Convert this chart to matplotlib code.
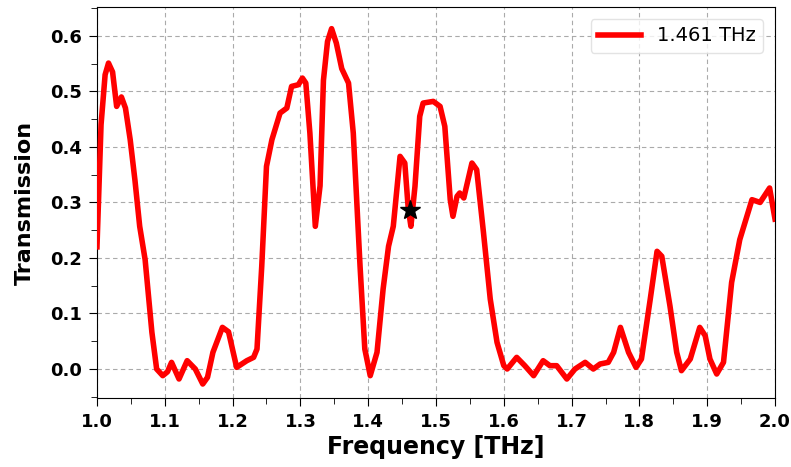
import matplotlib
matplotlib.use("Agg")
import matplotlib.pyplot as plt
from matplotlib.ticker import MultipleLocator, FormatStrFormatter

# Transmission spectrum (frequency in THz)
freq = [1.000, 1.006, 1.012, 1.017, 1.023, 1.029, 1.036, 1.042, 1.049, 1.056, 1.063,
        1.071, 1.081, 1.088, 1.097, 1.104, 1.110, 1.121, 1.133, 1.145, 1.156, 1.163,
        1.171, 1.185, 1.194, 1.206, 1.221, 1.231, 1.236, 1.243, 1.250, 1.258, 1.270,
        1.280, 1.287, 1.297, 1.303, 1.308, 1.314, 1.322, 1.329, 1.334, 1.340, 1.346,
        1.353, 1.361, 1.371, 1.378, 1.388, 1.395, 1.403, 1.413, 1.422, 1.430, 1.437,
        1.447, 1.454, 1.459, 1.463, 1.469, 1.476, 1.481, 1.496, 1.506, 1.513, 1.521,
        1.525, 1.531, 1.535, 1.541, 1.553, 1.560, 1.570, 1.580, 1.590, 1.600, 1.605,
        1.619, 1.631, 1.644, 1.658, 1.668, 1.678, 1.693, 1.705, 1.720, 1.732, 1.742,
        1.754, 1.762, 1.772, 1.784, 1.795, 1.803, 1.816, 1.826, 1.833, 1.845, 1.855,
        1.862, 1.875, 1.889, 1.897, 1.904, 1.914, 1.924, 1.936, 1.948, 1.966, 1.978,
        1.992, 2.000]
trans = [0.22, 0.44, 0.53, 0.551, 0.535, 0.473, 0.49, 0.47, 0.413, 0.34, 0.257,
         0.197, 0.066, 0.0, -0.012, -0.005, 0.012, -0.018, 0.015, 0.0, -0.027, -0.015,
         0.03, 0.075, 0.067, 0.003, 0.015, 0.021, 0.036, 0.185, 0.365, 0.413, 0.461,
         0.47, 0.509, 0.512, 0.524, 0.515, 0.425, 0.257, 0.33, 0.52, 0.59, 0.613,
         0.587, 0.541, 0.515, 0.425, 0.185, 0.036, -0.012, 0.03, 0.144, 0.221, 0.257,
         0.383, 0.371, 0.29, 0.257, 0.329, 0.455, 0.479, 0.482, 0.473, 0.437, 0.305,
         0.275, 0.311, 0.317, 0.308, 0.371, 0.359, 0.246, 0.126, 0.048, 0.006, 0.0,
         0.021, 0.006, -0.012, 0.015, 0.006, 0.006, -0.018, 0.0, 0.012, 0.0, 0.009,
         0.012, 0.03, 0.075, 0.03, 0.003, 0.018, 0.126, 0.212, 0.203, 0.114, 0.03,
         -0.003, 0.018, 0.075, 0.06, 0.018, -0.009, 0.012, 0.156, 0.233, 0.305, 0.30,
         0.326, 0.27]

# Highlighted resonance
star_freq = 1.461
star_trans = 0.287
legend_label = "1.461 THz"

fig = plt.figure(figsize=(7.91, 4.67), dpi=100)
ax = fig.add_axes([0.1226, 0.148, 0.8572, 0.837])

ax.plot(freq, trans, color="red", lw=4, label=legend_label, zorder=3,
        solid_joinstyle="round")
ax.plot([star_freq], [star_trans], marker="*", color="black", markersize=15,
        linestyle="none", zorder=4)

ax.set_xlim(1.0, 2.0)
ax.set_ylim(-0.052, 0.652)
ax.xaxis.set_major_locator(MultipleLocator(0.1))
ax.xaxis.set_minor_locator(MultipleLocator(0.05))
ax.yaxis.set_major_locator(MultipleLocator(0.1))
ax.yaxis.set_minor_locator(MultipleLocator(0.05))
ax.xaxis.set_major_formatter(FormatStrFormatter("%.1f"))
ax.yaxis.set_major_formatter(FormatStrFormatter("%.1f"))
ax.tick_params(which="major", length=6, pad=5)
ax.tick_params(which="minor", length=4)
ax.grid(True, which="major", linestyle=(0, (4, 3)), color="#aaaaaa", linewidth=0.8)

for lab in ax.get_xticklabels() + ax.get_yticklabels():
    lab.set_fontweight("bold")
    lab.set_fontsize(13)

ax.set_xlabel("Frequency [THz]", fontsize=17, fontweight="bold", labelpad=3)
ax.set_ylabel("Transmission", fontsize=16, fontweight="bold", labelpad=11)

leg = ax.legend(loc="upper right", fontsize=14, handlelength=2.2,
                borderaxespad=0.6)
leg.get_frame().set_edgecolor("#dddddd")

fig.savefig("out.png", dpi=100)
